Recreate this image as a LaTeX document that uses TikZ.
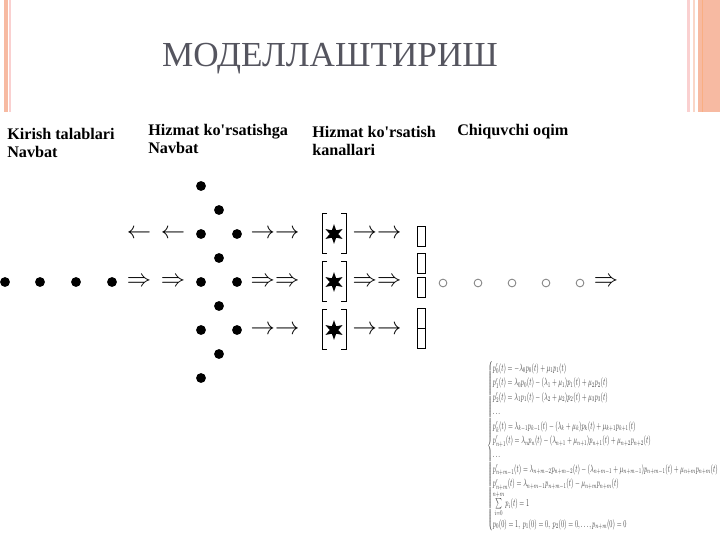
\documentclass[tikz,border=0pt]{standalone}
\usepackage{amsmath}
\usepackage{fontspec}
\setmainfont{Liberation Serif}[Ligatures=TeXOff]
\newfontfamily\titlefont{Liberation Serif}
\usetikzlibrary{shapes.geometric}

\definecolor{bandpeach}{RGB}{247,186,162}
\definecolor{bandpink}{RGB}{250,208,208}
\definecolor{titlegray}{RGB}{85,85,95}
\definecolor{formgray}{RGB}{60,60,60}

\tikzset{
    qdot/.style={circle,fill,inner sep=0pt,minimum size=7pt},
    odot/.style={circle,draw=gray,line width=0.6pt,inner sep=0pt,minimum size=5.5pt},
    chan/.style={star,star points=6,star point ratio=2.3,fill,inner sep=0pt,minimum size=14pt},
    cell/.style={draw,line width=0.4pt,inner sep=0pt,minimum width=5.7pt,minimum height=14.2pt},
    lbl/.style={anchor=north west,align=left,inner sep=0pt,font=\fontsize{11.5}{13}\selectfont\bfseries},
    arr/.style={inner sep=0pt,font=\fontsize{17.28}{18}\selectfont}
}

\begin{document}
\begin{tikzpicture}[x=0.025cm,y=-0.025cm]
    \useasboundingbox (0,0) rectangle (720,540);

    % slide frame
    \fill[bandpeach] (4,0) rectangle (8,112);
    \fill[bandpink] (9,0) rectangle (11,112);
    \fill[bandpink] (687,0) rectangle (690,112);
    \fill[bandpeach!60] (693,0) rectangle (695,112);
    \fill[bandpeach] (698,0) rectangle (720,112);
    \fill[bandpeach!80!orange] (702,0) rectangle (703,112);

    \node (title) at (330,66) [anchor=base,text=titlegray,font=\titlefont\fontsize{25}{28}\selectfont]{МОДЕЛЛАШТИРИШ};

    \node (kirish) at (7,128) [lbl]{Kirish talablari\\Navbat};
    \node (navbat) at (148,124) [lbl]{Hizmat ko'rsatishga\\Navbat};
    \node (kanal) at (312,126) [lbl]{Hizmat ko'rsatish\\kanallari};
    \node (chiq) at (457,124) [lbl]{Chiquvchi oqim};

    % incoming requests
    \node (in1) at (5,282) [qdot]{};
    \node (in2) at (40,282) [qdot]{};
    \node (in3) at (76,282) [qdot]{};
    \node (in4) at (112,282) [qdot]{};

    \node (la1) at (139,234) [arr]{$\leftarrow$};
    \node (la2) at (173,234) [arr]{$\leftarrow$};
    \node (ra1) at (139,282) [arr]{$\Rightarrow$};
    \node (ra2) at (173,282) [arr]{$\Rightarrow$};

    % queue
    \node (q1) at (201,186) [qdot]{};
    \node (q2) at (219,210) [qdot]{};
    \node (q3) at (201,234) [qdot]{};
    \node (q4) at (237,234) [qdot]{};
    \node (q5) at (219,258) [qdot]{};
    \node (q6) at (201,282) [qdot]{};
    \node (q7) at (237,282) [qdot]{};
    \node (q8) at (219,306) [qdot]{};
    \node (q9) at (201,330) [qdot]{};
    \node (q10) at (237,330) [qdot]{};
    \node (q11) at (219,354) [qdot]{};
    \node (q12) at (201,378) [qdot]{};

    \node (ta1) at (275,234) [arr]{$\rightarrow\rightarrow$};
    \node (ta2) at (275,282) [arr]{$\Rightarrow\Rightarrow$};
    \node (ta3) at (275,330) [arr]{$\rightarrow\rightarrow$};

    % channels
    \foreach \n/\r in {1/234,2/282,3/330} {
        \node (s\n) at (334,\r) [chan]{};
        \draw[line width=0.5pt] (327,\r-21) -- (322,\r-21) -- (322,\r+19) -- (327,\r+19);
        \draw[line width=0.5pt] (341,\r-21) -- (346,\r-21) -- (346,\r+19) -- (341,\r+19);
    }

    \node (oa1) at (377,234) [arr]{$\rightarrow\rightarrow$};
    \node (oa2) at (377,282) [arr]{$\Rightarrow\Rightarrow$};
    \node (oa3) at (377,330) [arr]{$\rightarrow\rightarrow$};

    \node (c1) at (421,236.5) [cell]{};
    \node (c2) at (421,263) [cell]{};
    \node (c3) at (421,287.5) [cell]{};
    \node (c4) at (421,318) [cell]{};
    \node (c5) at (421,338.5) [cell]{};

    % output flow
    \node (o1) at (443,283) [odot]{};
    \node (o2) at (478,283) [odot]{};
    \node (o3) at (512,283) [odot]{};
    \node (o4) at (546,283) [odot]{};
    \node (o5) at (580,283) [odot]{};
    \node (out) at (606,282) [arr]{$\Rightarrow$};

    % Kolmogorov system
    \node (sys) at (487,361) [anchor=north west,inner sep=0pt,text=formgray]{%
        \resizebox*{5.78cm}{4.25cm}{$\left\{\renewcommand{\arraystretch}{1.15}
        \begin{array}{@{}l@{}}
        p_0'(t)=-\lambda_0p_0(t)+\mu_1p_1(t)\\
        p_1'(t)=\lambda_0p_0(t)-(\lambda_1+\mu_1)p_1(t)+\mu_2p_2(t)\\
        p_2'(t)=\lambda_1p_1(t)-(\lambda_2+\mu_2)p_2(t)+\mu_3p_3(t)\\
        \dots\\
        p_k'(t)=\lambda_{k-1}p_{k-1}(t)-(\lambda_k+\mu_k)p_k(t)+\mu_{k+1}p_{k+1}(t)\\
        p_{n+1}'(t)=\lambda_np_n(t)-(\lambda_{n+1}+\mu_{n+1})p_{n+1}(t)+\mu_{n+2}p_{n+2}(t)\\
        \dots\\
        p_{n+m-1}'(t)=\lambda_{n+m-2}p_{n+m-2}(t)-(\lambda_{n+m-1}+\mu_{n+m-1})p_{n+m-1}(t)+\mu_{n+m}p_{n+m}(t)\\
        p_{n+m}'(t)=\lambda_{n+m-1}p_{n+m-1}(t)-\mu_{n+m}p_{n+m}(t)\\
        \sum\limits_{i=0}^{n+m}p_i(t)=1\\
        p_0(0)=1,\ p_1(0)=0,\ p_2(0)=0,\dots,p_{n+m}(0)=0
        \end{array}\right.$}};
\end{tikzpicture}
\end{document}
